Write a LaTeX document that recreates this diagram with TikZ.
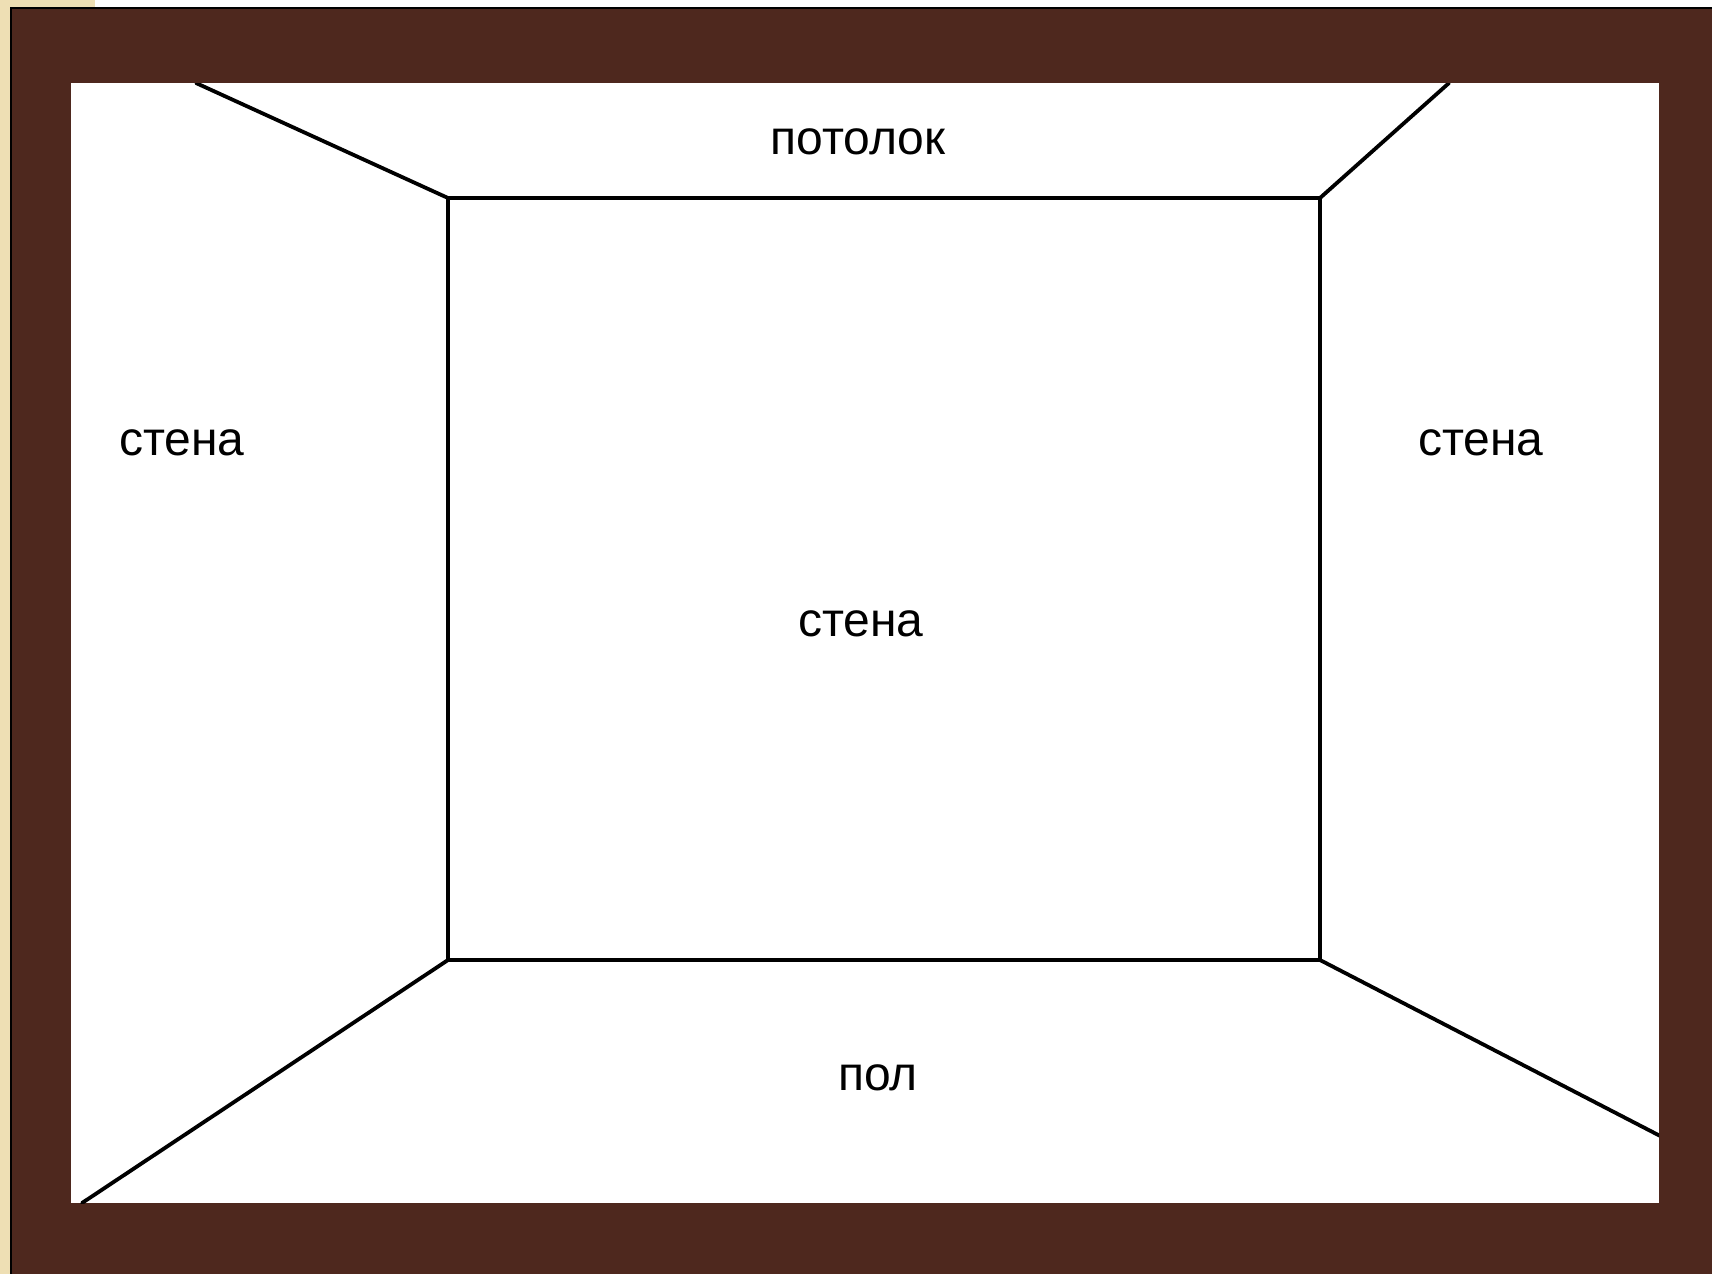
\documentclass[tikz,border=0pt]{standalone}
\usepackage{fontspec}
\setmainfont{Liberation Sans}
\definecolor{frame}{HTML}{4E281E}
\definecolor{beige}{HTML}{EEDFB4}
\tikzset{
  edge/.style={line width=3.8pt, line cap=round, line join=round, black},
  lbl/.style={font=\fontsize{48}{50}\selectfont, inner sep=0pt, black}
}
\begin{document}
\begin{tikzpicture}[x=1pt,y=-1pt]
\useasboundingbox (0,0) rectangle (1712,1274);
\fill[white] (0,0) rectangle (1712,1274);
\fill[beige] (0,0) rectangle (95,8);
\fill[beige] (0,0) rectangle (11,1274);
\fill[black] (10,7) rectangle (1712,1274);
\fill[frame] (12,9) rectangle (1712,1274);
\fill[white] (71,83) rectangle (1659,1203);
\begin{scope}
\clip (71,83) rectangle (1659,1203);
\coordinate (tl) at (448,198);
\coordinate (tr) at (1320,198);
\coordinate (br) at (1320,960);
\coordinate (bl) at (448,960);
\coordinate (etl) at (196,83);
\coordinate (etr) at (1449,83);
\coordinate (ebl) at (82,1203);
\coordinate (ebr) at (1668,1140);
\draw[edge] (tl) -- (tr) -- (br) -- (bl) -- cycle;
\draw[edge] (tl) -- (etl);
\draw[edge] (tr) -- (etr);
\draw[edge] (bl) -- (ebl);
\draw[edge] (br) -- (ebr);
\end{scope}
\node[lbl] (ceil) at (858,142) {потолок};
\node[lbl] (lw) at (182,443) {стена};
\node[lbl] (rw) at (1481,443) {стена};
\node[lbl] (cw) at (861,624) {стена};
\node[lbl] (floor) at (878,1078) {пол};
\end{tikzpicture}
\end{document}
